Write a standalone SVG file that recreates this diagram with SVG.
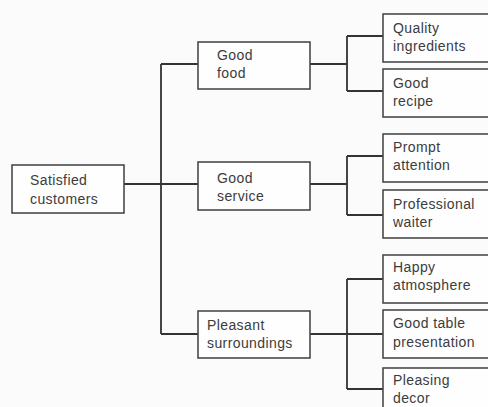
<svg xmlns="http://www.w3.org/2000/svg" width="488" height="407" viewBox="0 0 488 407">
<style>
.box{fill:#fefefe;stroke:#4a4a4a;stroke-width:1.6}
.t{font-family:"Liberation Sans",Arial,sans-serif;font-size:14px;fill:#3c3c3c;letter-spacing:0.4px}
.c{fill:none;stroke:#333;stroke-width:1.8}
</style>
<rect width="488" height="407" fill="#fbfbfb"/>
<g id="connectors">
<path class="c" d="M124 184H198M161 64V334M161 64H198M161 334H198"/>
<path class="c" d="M310 64H347M347 36V91M347 36H383M347 91H383"/>
<path class="c" d="M310 184H347M347 156V215M347 156H383M347 215H383"/>
<path class="c" d="M310 334H383M347 279V389M347 279H383M347 389H383"/>
</g>
<g id="root"><rect class="box" x="12" y="165" width="112" height="48"/><text class="t" x="30" y="185">Satisfied</text><text class="t" x="30" y="204">customers</text></g>
<g id="good-food"><rect class="box" x="198" y="42" width="112" height="47"/><text class="t" x="217" y="60">Good</text><text class="t" x="217" y="78">food</text></g>
<g id="good-service"><rect class="box" x="198" y="162" width="112" height="48"/><text class="t" x="217" y="183">Good</text><text class="t" x="217" y="201">service</text></g>
<g id="pleasant"><rect class="box" x="198" y="311" width="112" height="47"/><text class="t" x="207" y="330">Pleasant</text><text class="t" x="207" y="348">surroundings</text></g>
<g id="quality"><rect class="box" x="383" y="14" width="115" height="48"/><text class="t" x="393" y="33">Quality</text><text class="t" x="393" y="51">ingredients</text></g>
<g id="recipe"><rect class="box" x="383" y="69" width="115" height="48"/><text class="t" x="393" y="88">Good</text><text class="t" x="393" y="106">recipe</text></g>
<g id="prompt"><rect class="box" x="383" y="134" width="115" height="48"/><text class="t" x="393" y="152">Prompt</text><text class="t" x="393" y="170">attention</text></g>
<g id="waiter"><rect class="box" x="383" y="190" width="115" height="48"/><text class="t" x="393" y="209">Professional</text><text class="t" x="393" y="227">waiter</text></g>
<g id="happy"><rect class="box" x="383" y="255" width="115" height="48"/><text class="t" x="393" y="272">Happy</text><text class="t" x="393" y="290">atmosphere</text></g>
<g id="table"><rect class="box" x="383" y="310" width="115" height="48"/><text class="t" x="393" y="328">Good table</text><text class="t" x="393" y="347">presentation</text></g>
<g id="decor"><rect class="box" x="383" y="368" width="115" height="48"/><text class="t" x="393" y="385">Pleasing</text><text class="t" x="393" y="403">decor</text></g>
</svg>
